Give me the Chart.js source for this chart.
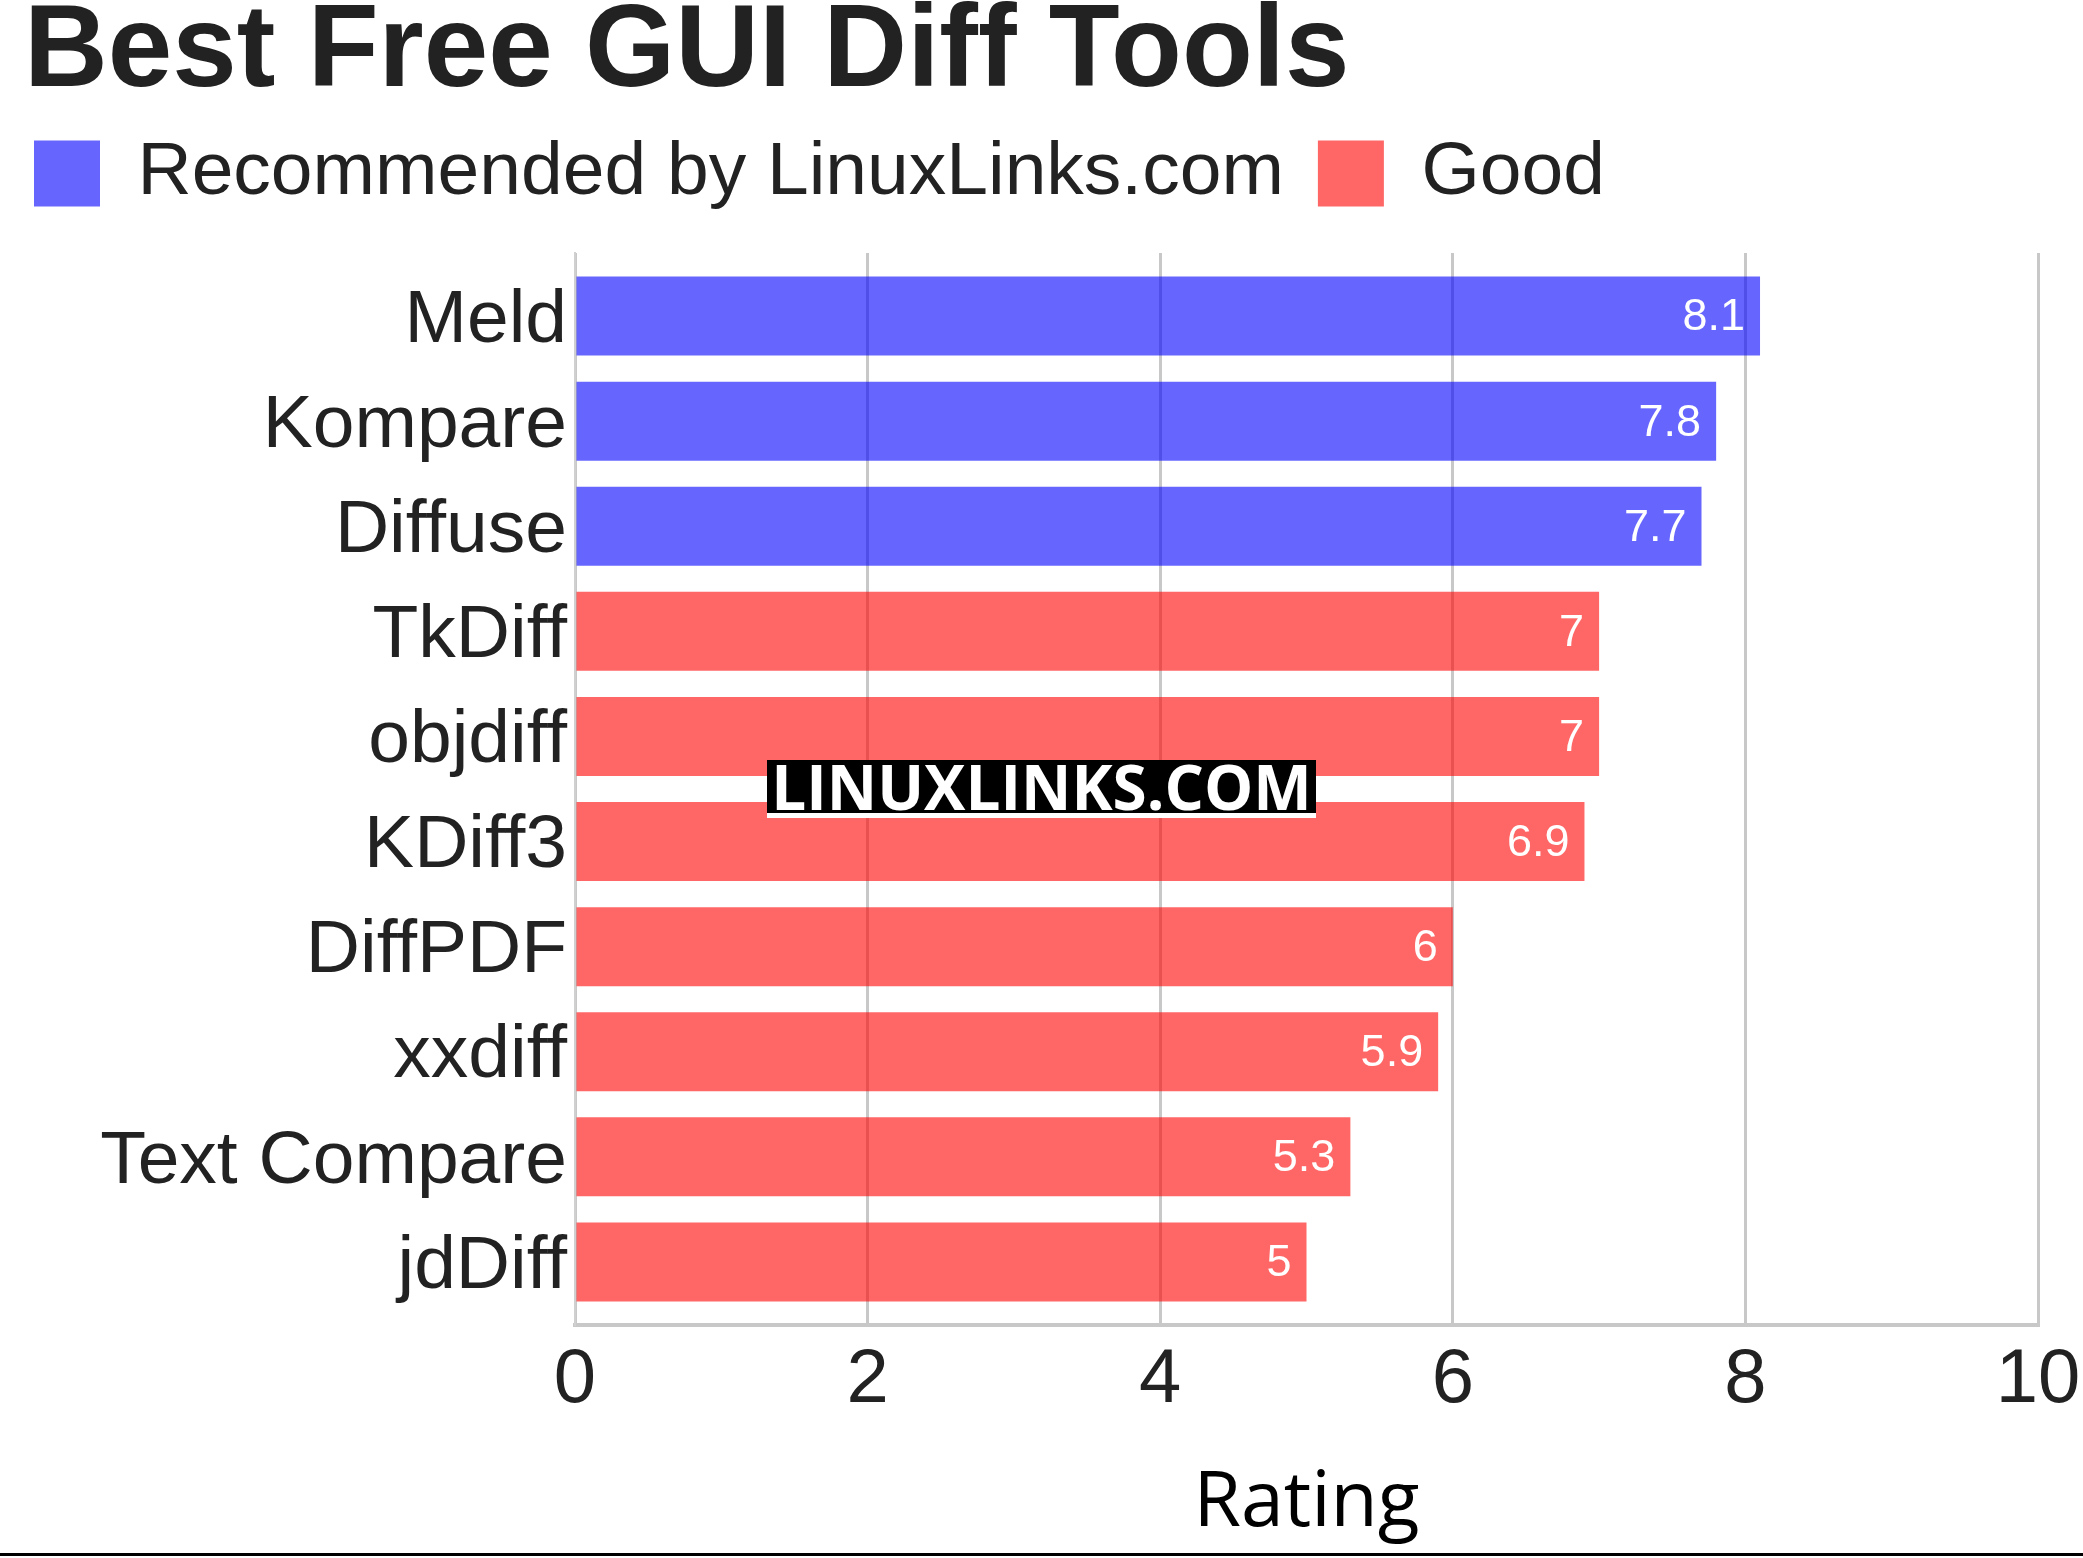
<!DOCTYPE html>
<html lang="en">
<head>
  <meta charset="UTF-8" />
  <title>Best Free GUI Diff Tools</title>
  <script src="https://cdn.jsdelivr.net/npm/chart.js"></script>
  <style>
    body {
      margin: 0;
      background: #fff;
    }
    .page {
      position: relative;
      width: 2083px;
      height: 1553px;
      border-bottom: 3px solid #000;
      overflow: hidden;
    }
    h1 {
      position: absolute;
      left: 24px;
      top: -11px;
      margin: 0;
      font: bold 116px/115px "Liberation Sans", Arial, sans-serif;
      color: #222;
      white-space: nowrap;
    }
    canvas {
      position: absolute;
      left: 0;
      top: 0;
    }
    /* site stamp over the middle of the plot */
    .stamp {
      position: absolute;
      left: 767px;
      top: 760px;
      width: 549px;
      height: 53px;
      background: #000;
      border-bottom: 5px solid #fff;
      color: #fff;
      font: bold 62px/53px "Open Sans", sans-serif;
      text-align: center;
      white-space: nowrap;
    }
  </style>
</head>
<body>
  <div class="page">
    <canvas id="diffChart" width="2083" height="1553"></canvas>
    <h1>Best Free GUI Diff Tools</h1>
    <div class="stamp">LINUXLINKS.COM</div>
  </div>

  <script>
    const tools = ['Meld', 'Kompare', 'Diffuse', 'TkDiff', 'objdiff', 'KDiff3', 'DiffPDF', 'xxdiff', 'Text Compare', 'jdDiff'];
    const recommended = [8.1, 7.8, 7.7, null, null, null, null, null, null, null];
    const good = [null, null, null, 7, 7, 6.9, 6, 5.9, 5.3, 5];
    const xMin = 0;
    const xMax = 10;
    const xStep = 2;

    const sans = '"Liberation Sans", Arial, sans-serif';

    // white value text at the end of each bar
    const valueLabels = {
      id: 'valueLabels',
      afterDatasetsDraw(chart) {
        const ctx = chart.ctx;
        ctx.save();
        ctx.font = '45px ' + sans;
        ctx.fillStyle = '#fff';
        ctx.textAlign = 'right';
        ctx.textBaseline = 'middle';
        chart.data.datasets.forEach((ds, i) => {
          chart.getDatasetMeta(i).data.forEach((bar, j) => {
            if (ds.data[j] == null) return;
            ctx.fillText(String(ds.data[j]), bar.x - 15, bar.y + 2);
          });
        });
        ctx.restore();
      }
    };

    // more room between the legend and the plot
    const legendGap = {
      id: 'legendGap',
      beforeInit(chart) {
        const fit = chart.legend.fit;
        chart.legend.fit = function () {
          fit.call(this);
          this.height += 32;
        };
      }
    };

    new Chart(document.getElementById('diffChart'), {
      type: 'bar',
      data: {
        labels: tools,
        datasets: [
          {
            label: 'Recommended by LinuxLinks.com',
            data: recommended,
            backgroundColor: 'rgba(0, 0, 255, 0.6)',
            borderWidth: 0
          },
          {
            label: 'Good',
            data: good,
            backgroundColor: 'rgba(255, 0, 0, 0.6)',
            borderWidth: 0
          }
        ]
      },
      options: {
        indexAxis: 'y',
        responsive: false,
        animation: false,
        barPercentage: 0.752,
        categoryPercentage: 1,
        layout: {
          padding: { top: 102, right: 45, left: 0, bottom: 0 }
        },
        plugins: {
          legend: {
            align: 'start',
            labels: {
              boxWidth: 66,
              boxHeight: 66,
              padding: 34,
              color: '#222',
              font: { family: sans, size: 75 }
            }
          },
          tooltip: { enabled: false }
        },
        scales: {
          x: {
            min: xMin,
            max: xMax,
            stacked: true,
            ticks: {
              stepSize: xStep,
              padding: 10,
              color: '#222',
              font: { family: sans, size: 76 }
            },
            grid: { color: '#c8c8c8', lineWidth: 3, drawTicks: false },
            border: { color: '#c8c8c8', width: 4 },
            title: {
              display: true,
              text: 'Rating',
              color: '#000',
              font: { family: '"Open Sans", sans-serif', size: 77 },
              padding: { top: 0, bottom: 3 }
            },
            afterFit(scale) {
              scale.height = 228;
              scale.paddingLeft = 0;
              scale.paddingRight = 0;
            }
          },
          y: {
            stacked: true,
            ticks: {
              padding: 8,
              labelOffset: 5,
              color: '#222',
              font: { family: sans, size: 75 }
            },
            grid: { display: false, drawTicks: false },
            border: { color: '#d0d0d0', width: 2 },
            afterFit(scale) { scale.width = 575; },
            // leave a small margin above the first bar and below the last one
            afterBuildTicks(scale) {
              scale._startValue = scale.min - 0.6;
              scale._valueRange = scale.max - scale.min + 1.2;
            }
          }
        }
      },
      plugins: [valueLabels, legendGap]
    });
  </script>
</body>
</html>
